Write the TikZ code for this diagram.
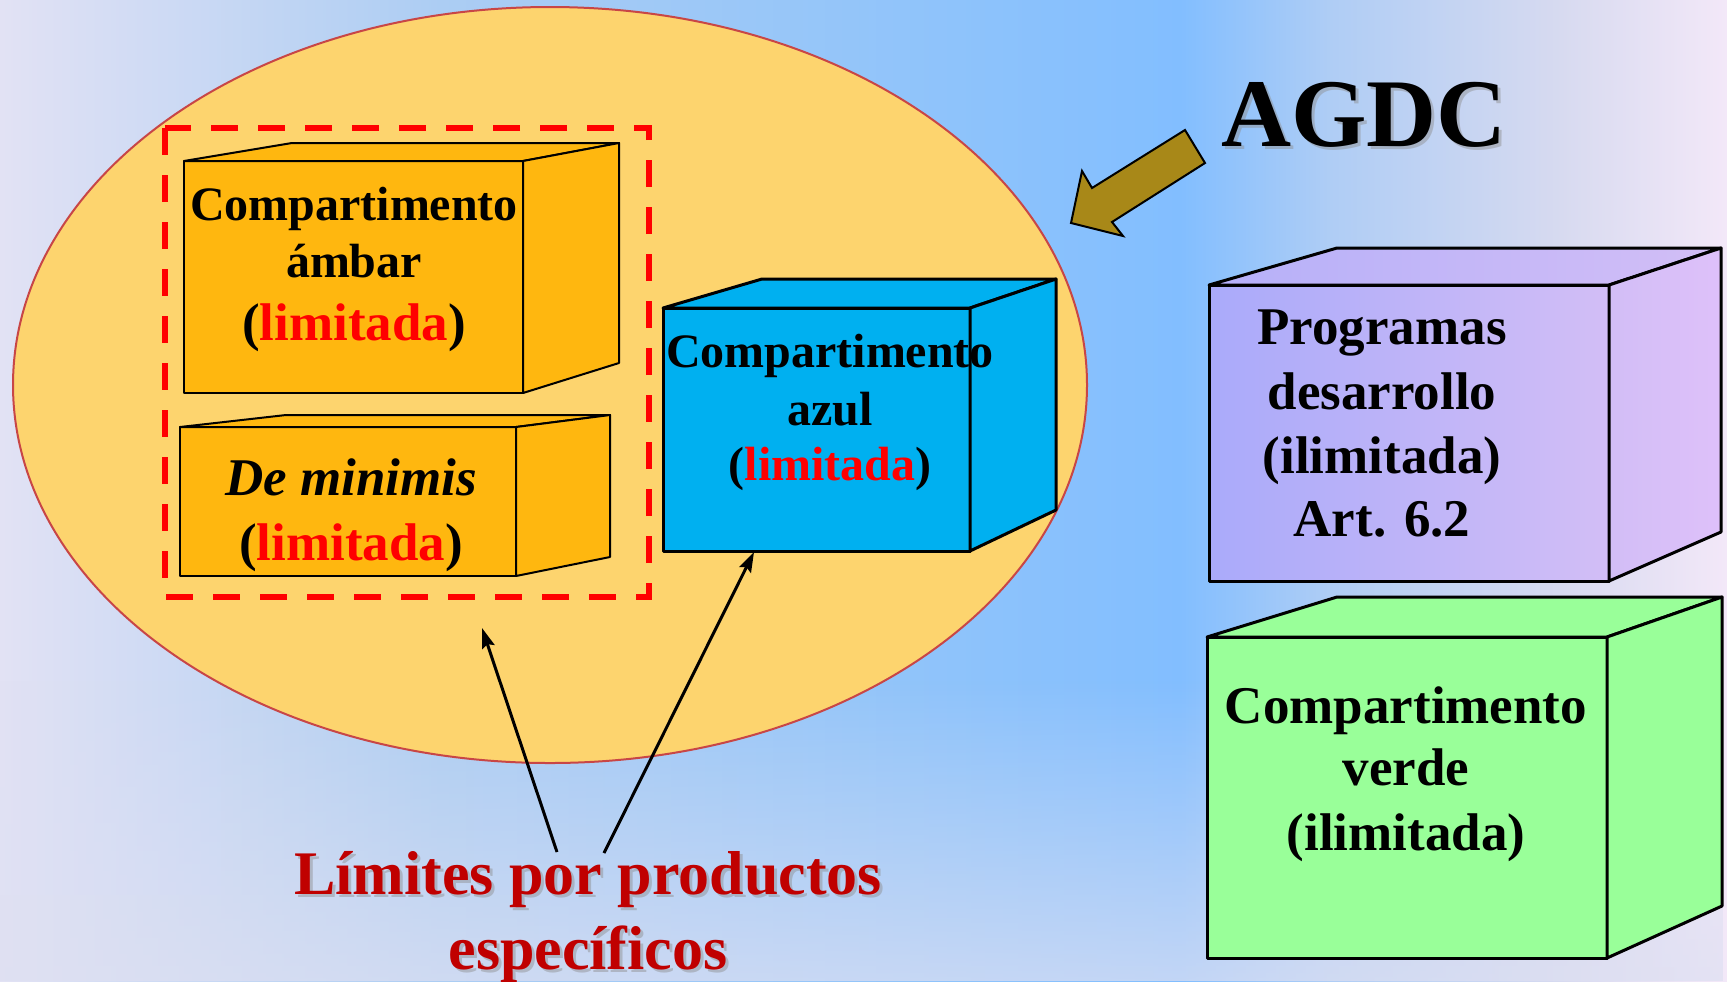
\documentclass[tikz,border=0pt]{standalone}
\usepackage{fontspec}
\setmainfont{Liberation Serif}
\usetikzlibrary{arrows.meta,fadings}
\definecolor{bg0}{RGB}{226,226,244}
\definecolor{bg1}{RGB}{172,205,243}
\definecolor{bg2}{RGB}{145,196,250}
\definecolor{bg3}{RGB}{130,190,255}
\definecolor{bg4}{RGB}{175,205,245}
\definecolor{bg5}{RGB}{215,218,240}
\definecolor{bg6}{RGB}{243,232,248}
\definecolor{lav}{RGB}{222,224,242}
\definecolor{ellfill}{RGB}{253,212,110}
\definecolor{ellline}{RGB}{200,70,70}
\definecolor{amber}{RGB}{255,183,15}
\definecolor{azul}{RGB}{0,176,240}
\definecolor{verde}{RGB}{153,255,153}
\definecolor{purL}{RGB}{170,170,250}
\definecolor{purR}{RGB}{210,190,246}
\definecolor{purS}{RGB}{222,192,250}
\definecolor{gold}{RGB}{168,136,24}
\definecolor{limred}{RGB}{192,0,0}
\definecolor{txtred}{RGB}{255,0,0}
\tikzset{
  amberface/.style={fill=amber,draw=black,line width=1pt,line join=round},
  blueface/.style={fill=azul,draw=black,line width=1.5pt,line join=round},
  greenface/.style={fill=verde,draw=black,line width=1.5pt,line join=round},
  purface/.style={draw=black,line width=1.5pt,line join=round},
  boxtxt/.style={inner sep=0pt,anchor=base,font=\bfseries\fontsize{24}{28}\selectfont},
  boxtxtL/.style={inner sep=0pt,anchor=base,font=\bfseries\fontsize{26.5}{31}\selectfont},
  limtxt/.style={inner sep=0pt,anchor=base,text=limred,font=\bfseries\fontsize{31}{36}\selectfont},
  agdctxt/.style={inner sep=0pt,anchor=base,font=\bfseries\fontsize{48.5}{56}\selectfont},
  shadowtxt/.style={text=black!45,text opacity=0.45},
  thinarrow/.style={draw=black,line width=1.5pt,-{Stealth[length=10pt,width=6.5pt,inset=1.5pt]}},
  bigarrow/.style={fill=gold,draw=black,line width=1pt,line join=miter},
  dashbox/.style={draw=txtred,line width=2.8pt,dash pattern=on 13.5pt off 10pt}
}
\newcommand{\limtd}{(\textcolor{txtred}{limitada})}
\begin{document}
\begin{tikzpicture}[x=0.5pt,y=-0.5pt]
\useasboundingbox (0,0) rectangle (1727,981);
% background
\shade[left color=bg0,right color=bg1] (0,0) rectangle (441,981);
\shade[left color=bg1,right color=bg2] (440,0) rectangle (901,981);
\shade[left color=bg2,right color=bg3] (900,0) rectangle (1181,981);
\shade[left color=bg3,right color=bg4] (1180,0) rectangle (1331,981);
\shade[left color=bg4,right color=bg5] (1330,0) rectangle (1561,981);
\shade[left color=bg5,right color=bg6] (1560,0) rectangle (1727,981);
\fill[lav,fill opacity=0.7,path fading=north] (0,680) rectangle (1727,981);
% ellipse
\draw[fill=ellfill,draw=ellline,line width=1pt] (550,385) ellipse [x radius=268.5pt,y radius=189pt];
% dashed rectangle
\draw[dashbox] (165,128) rectangle (649,597);
% amber box 1
\draw[amberface] (184,161) rectangle (523,393);
\draw[amberface] (184,161) -- (292,143) -- (619,143) -- (523,161) -- cycle;
\draw[amberface] (523,161) -- (619,143) -- (619,363) -- (523,393) -- cycle;
\node[boxtxt] (am1) at (354,220) {Compartimento};
\node[boxtxt] (am2) at (354,277) {ámbar};
\node[boxtxt,font=\bfseries\fontsize{26.5}{31}\selectfont] (am3) at (354,340) {\limtd};
% de minimis box
\draw[amberface] (180,427) rectangle (516,576);
\draw[amberface] (180,427) -- (286,415) -- (610,415) -- (516,427) -- cycle;
\draw[amberface] (516,427) -- (610,415) -- (610,557) -- (516,576) -- cycle;
\node[boxtxtL] (dm1) at (351,495) {\itshape De minimis};
\node[boxtxtL] (dm2) at (351,560) {\limtd};
% blue box
\draw[blueface] (663,308) rectangle (970,551);
\draw[blueface] (663,308) -- (762,279) -- (1056,279) -- (970,308) -- cycle;
\draw[blueface] (970,308) -- (1056,279) -- (1056,510) -- (970,551) -- cycle;
\node[boxtxt] (bl1) at (830,367) {Compartimento};
\node[boxtxt] (bl2) at (830,425) {azul};
\node[boxtxt] (bl3) at (830,480) {\limtd};
% purple box
\shade[purface,left color=purL,right color=purR] (1209,285) rectangle (1609,581);
\shade[purface,left color=purL!70!purR,right color=purR] (1209,285) -- (1337,248) -- (1721,248) -- (1609,285) -- cycle;
\shade[purface,left color=purR,right color=purS] (1609,285) -- (1721,248) -- (1721,532) -- (1609,581) -- cycle;
\node[boxtxtL] (pu1) at (1382,344) {Programas};
\node[boxtxtL] (pu2) at (1382,409) {desarrollo};
\node[boxtxtL] (pu3) at (1382,473) {(ilimitada)};
\node[boxtxtL] (pu4) at (1382,536) {Art. 6.2};
% green box
\draw[greenface] (1207,637) rectangle (1607,958);
\draw[greenface] (1207,637) -- (1337,597) -- (1722,597) -- (1607,637) -- cycle;
\draw[greenface] (1607,637) -- (1722,597) -- (1722,906) -- (1607,958) -- cycle;
\node[boxtxtL] (gr1) at (1406,723) {Compartimento};
\node[boxtxtL] (gr2) at (1406,785) {verde};
\node[boxtxtL] (gr3) at (1406,850) {(ilimitada)};
% AGDC
\node[agdctxt,shadowtxt] (agdcs) at (1367,149) {AGDC};
\node[agdctxt] (agdc) at (1364,146) {AGDC};
\draw[bigarrow] (1185,130) -- (1205,163) -- (1112,222) -- (1123,236) -- (1071,223) -- (1082,171) -- (1092,188) -- cycle;
% Limites text
\node[limtxt,shadowtxt] (lim1s) at (591,897) {Límites por productos};
\node[limtxt,shadowtxt] (lim2s) at (591,972) {específicos};
\node[limtxt] (lim1) at (588,894) {Límites por productos};
\node[limtxt] (lim2) at (588,969) {específicos};
% arrows
\coordinate (s1) at (557,852);
\coordinate (s2) at (604,853);
\coordinate (t1) at (482,628);
\coordinate (t2) at (754,552);
\draw[thinarrow] (s1) -- (t1);
\draw[thinarrow] (s2) -- (t2);
\end{tikzpicture}
\end{document}
